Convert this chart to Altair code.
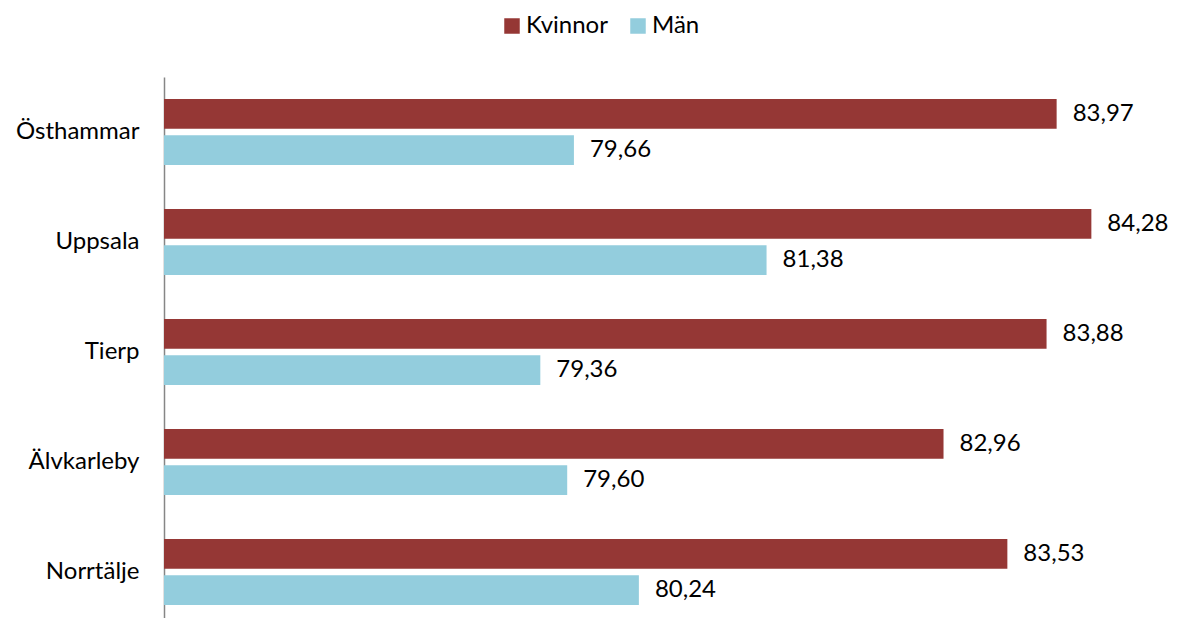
import altair as alt
import pandas as pd

kommuner = ["Östhammar", "Uppsala", "Tierp", "Älvkarleby", "Norrtälje"]
kvinnor = [83.97, 84.28, 83.88, 82.96, 83.53]
man = [79.66, 81.38, 79.36, 79.60, 80.24]
serier = ["Kvinnor", "Män"]
farger = ["#953735", "#93CDDD"]

rows = []
for k, kv, m in zip(kommuner, kvinnor, man):
    rows.append({"kommun": k, "kon": "Kvinnor", "varde": kv})
    rows.append({"kommun": k, "kon": "Män", "varde": m})
df = pd.DataFrame(rows)
df["etikett"] = df["varde"].map(lambda v: f"{v:.2f}".replace(".", ","))

FONT = "Lato"
FS = 24

y = alt.Y("kommun:N", sort=kommuner, title=None,
          scale=alt.Scale(paddingInner=0.4, paddingOuter=0.2),
          axis=alt.Axis(domain=True, domainColor="#868686", domainWidth=1.5,
                        ticks=False, labelFontSize=FS, labelFont=FONT,
                        labelColor="#000000", labelPadding=25))
yoff = alt.YOffset("kon:N", sort=serier,
                   scale=alt.Scale(paddingInner=0.18, paddingOuter=0))
x = alt.X("varde:Q", title=None,
          scale=alt.Scale(domain=[76, 85], zero=False, nice=False),
          axis=None)

bars = alt.Chart(df).mark_bar().encode(
    y=y, yOffset=yoff, x=x, x2=alt.datum(76),
    color=alt.Color("kon:N", sort=serier,
                    scale=alt.Scale(domain=serier, range=farger),
                    legend=alt.Legend(title=None, orient="none",
                                      direction="horizontal",
                                      legendX=336, legendY=-63,
                                      symbolType="square", symbolSize=240,
                                      symbolStrokeWidth=0,
                                      labelFontSize=FS, labelFont=FONT,
                                      labelColor="#000000",
                                      labelOffset=2, columnPadding=18)),
)

labels = alt.Chart(df).mark_text(align="left", baseline="middle", dx=16,
                                 fontSize=FS, font=FONT, color="#000000").encode(
    y=alt.Y("kommun:N", sort=kommuner), yOffset=alt.YOffset("kon:N", sort=serier),
    x="varde:Q", text="etikett:N",
)

chart = alt.layer(bars, labels).properties(
    width=1008, height=550,
    autosize=alt.AutoSizeParams(type="none"),
    padding={"left": 156, "top": 69, "right": 0, "bottom": 0},
).configure_view(stroke=None)

chart.save("out.html", embed_options={"renderer": "svg", "actions": False})
